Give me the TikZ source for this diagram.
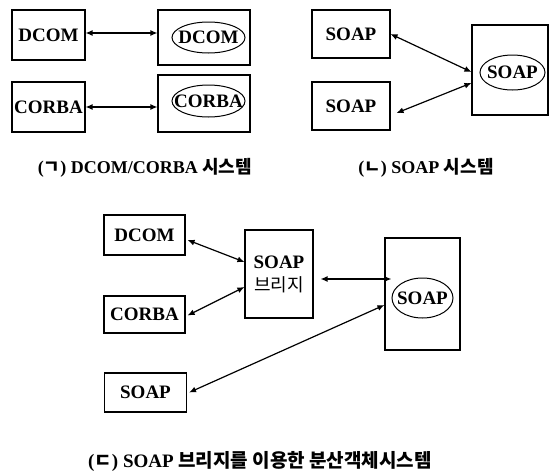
\documentclass[tikz,border=0pt]{standalone}
\usepackage{fontspec}
\setmainfont{Liberation Serif}
\newfontfamily\kr{Noto Sans CJK KR}
\usetikzlibrary{arrows.meta,shapes.geometric}

\begin{document}
\begin{tikzpicture}[x=1pt,y=-1pt,
    box/.style={draw=black, line width=1.1pt, inner sep=0pt, font=\fontsize{19}{21}\selectfont\bfseries},
    oval/.style={draw=black, ellipse, line width=1pt, inner sep=0pt, font=\fontsize{19}{21}\selectfont\bfseries},
    link/.style={draw=black, line width=1.2pt, {Latex[length=7pt,width=6pt]}-{Latex[length=7pt,width=6pt]}},
    caption/.style={font=\fontsize{18}{20}\selectfont\bfseries}]
    \useasboundingbox (0,0) rectangle (550,472);

    \node[box, minimum width=73, minimum height=50] (dcomL) at (48.5,35) {DCOM};
    \node[box, minimum width=92, minimum height=55] (dcomR) at (204,37.5) {};
    \node[oval, minimum width=73, minimum height=31, label={[font=\fontsize{19}{21}\selectfont\bfseries]center:DCOM}] (dcomRo) at (208.5,37.5) {};
    \node[box, minimum width=73, minimum height=50] (corbaL) at (48.5,107) {CORBA};
    \node[box, minimum width=92, minimum height=57] (corbaR) at (204,103.5) {};
    \node[oval, minimum width=73, minimum height=32, label={[font=\fontsize{19}{21}\selectfont\bfseries]center:CORBA}] (corbaRo) at (208.5,101) {};
    \draw[link] ([yshift=2pt]dcomL.east) -- ([yshift=2pt]dcomL.east -| dcomR.west);
    \draw[link] (corbaL.east) -- (corbaL.east -| corbaR.west);
    \node[caption] (capA) at (145,168) {({\kr ㄱ}) DCOM/CORBA {\kr 시스템}};

    \node[box, minimum width=78, minimum height=48] (soapA) at (351,34) {SOAP};
    \node[box, minimum width=78, minimum height=48] (soapB) at (351,106) {SOAP};
    \node[box, minimum width=76, minimum height=90] (soapR) at (510,70) {};
    \node[oval, minimum width=65, minimum height=35, label={[font=\fontsize{19}{21}\selectfont\bfseries]center:SOAP}] (soapRo) at (512.5,72.5) {};
    \draw[link] (soapA.east) -- ([yshift=-2pt]soapR.west);
    \draw[link] ([xshift=6pt,yshift=-7pt]soapB.east) -- ([yshift=-13pt]soapR.west);
    \node[caption] (capB) at (426,168) {({\kr ㄴ}) SOAP {\kr 시스템}};

    \node[box, minimum width=81, minimum height=40] (dcomC) at (144.5,235) {DCOM};
    \node[box, minimum width=81, minimum height=37] (corbaC) at (144.5,314.5) {CORBA};
    \node[box, minimum width=82, minimum height=39] (soapC) at (145.5,392.5) {SOAP};
    \node[box, minimum width=68, minimum height=88, align=center, font=\fontsize{19}{23}\selectfont\bfseries] (bridge) at (279,274) {SOAP\\{\kr\mdseries\fontsize{18}{23}\selectfont 브리지}};
    \node[box, minimum width=75, minimum height=112] (soapBig) at (422.5,294) {};
    \node[oval, minimum width=61, minimum height=40, label={[font=\fontsize{19}{21}\selectfont\bfseries]center:SOAP}] (soapBigo) at (422.5,298) {};
    \draw[link] ([xshift=2pt,yshift=-5pt]dcomC.east) -- ([yshift=12pt]bridge.west);
    \draw[link] ([xshift=2pt,yshift=-1pt]corbaC.east) -- ([yshift=-13pt]bridge.west);
    \draw[link] ([xshift=7pt,yshift=-5pt]bridge.east) -- ([xshift=7pt,yshift=-5pt]bridge.east -| soapBig.west);
    \draw[link] ([xshift=2pt]soapC.east) -- ([yshift=-11pt]soapBig.west);
    \node[caption, font=\fontsize{19}{21}\selectfont\bfseries] (capC) at (260,461) {({\kr ㄷ}) SOAP {\kr 브리지를 이용한 분산객체시스템}};
\end{tikzpicture}
\end{document}
